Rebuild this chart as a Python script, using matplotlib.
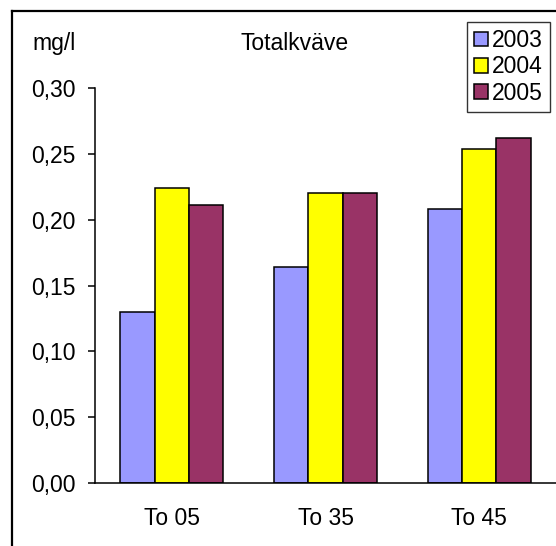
import numpy as np
import matplotlib.pyplot as plt
from matplotlib.lines import Line2D

# data
stations = ["To 05", "To 35", "To 45"]
years = ["2003", "2004", "2005"]
v2003 = [0.130, 0.164, 0.208]
v2004 = [0.224, 0.220, 0.254]
v2005 = [0.211, 0.220, 0.262]
colors = ["#9999FF", "#FFFF00", "#993366"]
yticks = [0.00, 0.05, 0.10, 0.15, 0.20, 0.25, 0.30]

plt.rcParams['font.family'] = ['Liberation Sans', 'DejaVu Sans']
FS = 16.5

W, H = 556, 546
fig = plt.figure(figsize=(W / 100, H / 100), dpi=100)
ax = fig.add_axes([95 / W, 1 - 483 / H, 1 - 95 / W, (483 - 88) / H])

x = np.arange(len(stations))
bw = 0.223
for i, (vals, c, lab) in enumerate(zip([v2003, v2004, v2005], colors, years)):
    ax.bar(x + (i - 1) * bw, vals, bw, color=c, edgecolor="black",
           linewidth=1.1, label=lab)

ax.set_xlim(-0.5, 2.5)
ax.set_ylim(0, 0.30)
ax.set_yticks(yticks)
ax.set_yticklabels([f"{t:.2f}".replace(".", ",") for t in yticks], fontsize=FS)
ax.set_xticks(x)
ax.set_xticklabels(stations, fontsize=FS)
ax.tick_params(axis="x", length=0, pad=17)
ax.tick_params(axis="y", length=5, width=1.1, pad=9, direction="out")
for s in ["top", "right"]:
    ax.spines[s].set_visible(False)
for s in ["left", "bottom"]:
    ax.spines[s].set_linewidth(1.1)

# labels
fig.text(32 / W, 1 - 50 / H, "mg/l", fontsize=FS, ha="left", va="baseline")
fig.text(295 / W, 1 - 50 / H, "Totalkväve", fontsize=FS, ha="center", va="baseline")

# legend
leg = fig.legend(loc="upper right", bbox_to_anchor=(550 / W, 1 - 22 / H),
                 fontsize=FS, frameon=True, fancybox=False, edgecolor="black",
                 handlelength=0.6, handleheight=0.6, handletextpad=0.2,
                 labelspacing=0.15, borderpad=0.3, borderaxespad=0)
leg.get_frame().set_linewidth(1.0)

# chart area border (cut off on right and bottom)
bx, by = 12 / W, 1 - 11 / H
fig.add_artist(Line2D([bx, bx], [0, by], color="black", lw=1.6, transform=fig.transFigure))
fig.add_artist(Line2D([bx, 1], [by, by], color="black", lw=1.6, transform=fig.transFigure))

fig.savefig("out.png", dpi=100)
